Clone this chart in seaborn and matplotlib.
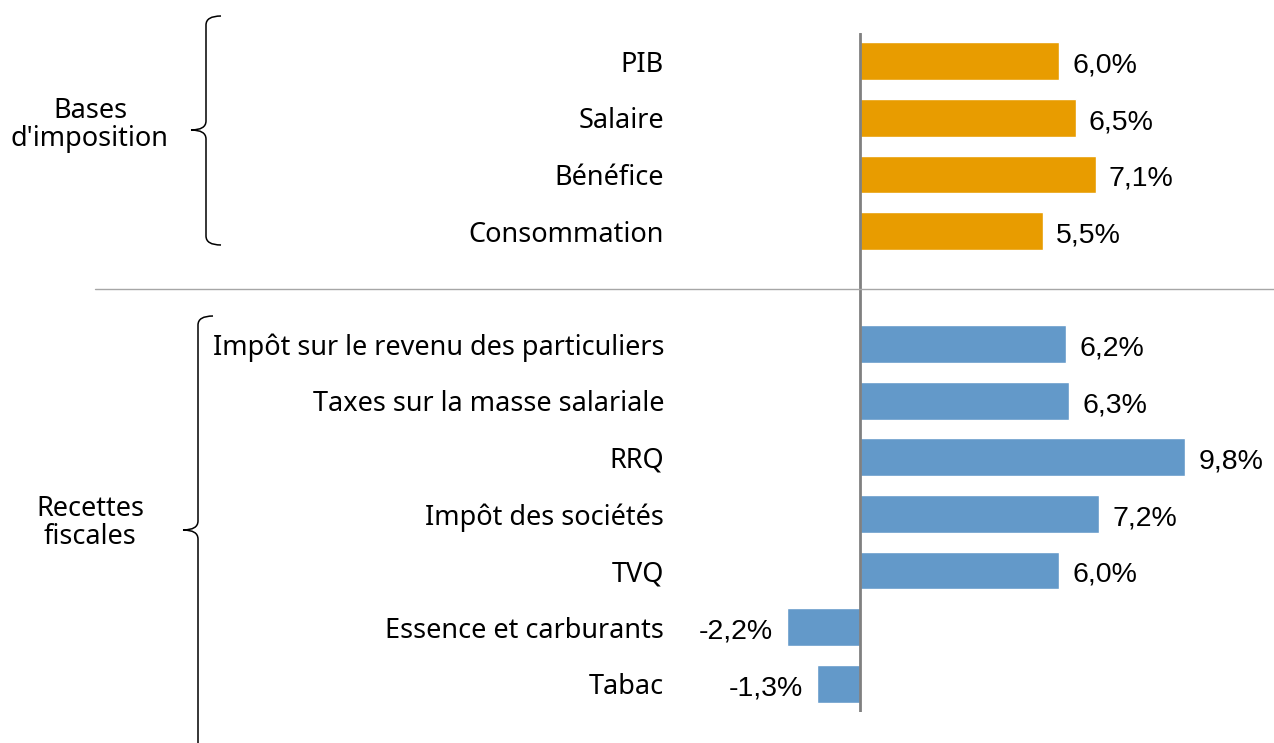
import matplotlib
matplotlib.use("Agg")
import matplotlib.pyplot as plt
from matplotlib.path import Path
from matplotlib.patches import PathPatch
from matplotlib.lines import Line2D
import seaborn as sns
import pandas as pd

# données
bases = ["PIB", "Salaire", "Bénéfice", "Consommation"]
bases_vals = [6.0, 6.5, 7.1, 5.5]
recettes = ["Impôt sur le revenu des particuliers", "Taxes sur la masse salariale",
            "RRQ", "Impôt des sociétés", "TVQ", "Essence et carburants", "Tabac"]
recettes_vals = [6.2, 6.3, 9.8, 7.2, 6.0, -2.2, -1.3]
groupes = ["Bases\nd'imposition", "Recettes\nfiscales"]

ORANGE = "#E89C00"
BLEU = "#6399C9"
CAT_FONT = "Noto Sans"
NUM_FONT = "Liberation Sans"

df = pd.DataFrame({
    "cat": bases + recettes,
    "val": bases_vals + recettes_vals,
    "groupe": ["b"] * len(bases) + ["r"] * len(recettes),
})
order = bases + [" "] + recettes

sns.set_theme(style="white")
W, H = 1274, 743
fig = plt.figure(figsize=(W / 100, H / 100), dpi=100)

# position de l'axe en pixels : zéro à x=860, 33.2 px par point de %
ax_left, ax_right, ax_top, ax_bot = 700, 1274, 33, 712
scale = 33.2
ax = fig.add_axes([ax_left / W, 1 - ax_bot / H, (ax_right - ax_left) / W, (ax_bot - ax_top) / H])

sns.barplot(data=df, x="val", y="cat", hue="groupe", order=order,
            palette={"b": ORANGE, "r": BLEU}, dodge=False, width=0.67,
            legend=False, ax=ax, saturation=1)

ax.set_xlim(-(860 - ax_left) / scale, (ax_right - 860) / scale)
ax.set_ylim(len(order) - 0.5, -0.5)
ax.axvline(0, color="#808080", lw=2, zorder=3)
for s in ax.spines.values():
    s.set_visible(False)
ax.set_xticks([])
ax.set_xlabel("")
ax.set_ylabel("")
ax.tick_params(axis="y", length=0, pad=(ax_left - 664) * 0.72)
for lab in ax.get_yticklabels():
    lab.set_fontfamily(CAT_FONT)
    lab.set_fontsize(19.5)
    lab.set_color("black")

# étiquettes de valeurs
for cat, v in zip(df["cat"], df["val"]):
    y = order.index(cat)
    txt = f"{v:.1f}%".replace(".", ",")
    ax.annotate(txt, (v, y), xytext=(9.5 if v >= 0 else -10, -1), textcoords="offset points",
                ha="left" if v >= 0 else "right", va="center_baseline",
                fontsize=20.5, family=NUM_FONT, color="black")

# ligne de séparation
fig.add_artist(Line2D([95 / W, 1], [1 - 289 / H] * 2, transform=fig.transFigure,
                      color="#a6a6a6", lw=1))


def px(x, y):
    return (x / W, 1 - y / H)


def accolade(x, y0, ymid, y1, arm=15, tip=15, r=9):
    verts = [px(x + arm, y0), px(x, y0), px(x, y0 + r),
             px(x, ymid - r), px(x, ymid), px(x - tip, ymid),
             px(x, ymid), px(x, ymid + r),
             px(x, y1 - r), px(x, y1), px(x + arm, y1)]
    codes = [Path.MOVETO, Path.CURVE3, Path.CURVE3,
             Path.LINETO, Path.CURVE3, Path.CURVE3,
             Path.CURVE3, Path.CURVE3,
             Path.LINETO, Path.CURVE3, Path.CURVE3]
    fig.add_artist(PathPatch(Path(verts, codes), transform=fig.transFigure,
                             fill=False, edgecolor="black", lw=1.1))


accolade(206, 16, 130, 245)
accolade(198, 316, 530, 790)

fig.text(90 / W, 1 - 125 / H, groupes[0], ha="center", va="center", color="black",
         fontsize=19.5, family=CAT_FONT, linespacing=1.0)
fig.text(90 / W, 1 - 523 / H, groupes[1], ha="center", va="center", color="black",
         fontsize=19.5, family=CAT_FONT, linespacing=1.0)

fig.savefig("out.png", dpi=100)
